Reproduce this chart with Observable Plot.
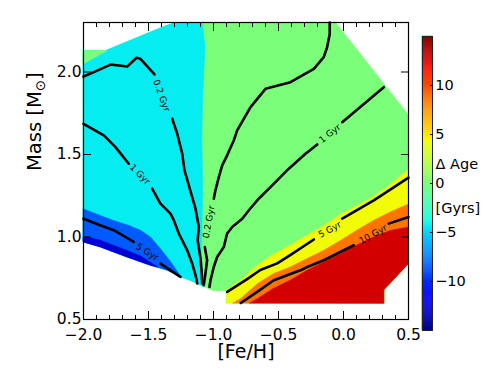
<!DOCTYPE html>
<html>
<head>
<meta charset="utf-8">
<script src="https://cdn.jsdelivr.net/npm/d3@7"></script>
<script src="https://cdn.jsdelivr.net/npm/@observablehq/plot@0.6"></script>
<style>
  html, body { margin: 0; padding: 0; background: #fff; }
  #wrap { position: relative; width: 491px; height: 368px; overflow: hidden; }
  #wrap svg { position: absolute; left: 0; top: 0; }
</style>
</head>
<body>
<div id="wrap"></div>
<script>
// ---------------- data ----------------
// axis ticks
const xMajorTicks = [-2.0, -1.5, -1.0, -0.5, 0.0, 0.5];
const xMinorTicks = [-1.9, -1.8, -1.7, -1.6, -1.4, -1.3, -1.2, -1.1, -0.9, -0.8, -0.7, -0.6, -0.4, -0.3, -0.2, -0.1, 0.1, 0.2, 0.3, 0.4];
const yMajorTicks = [0.5, 1.0, 1.5, 2.0];
const cbTicks = [-10, -5, 0, 5, 10];
const cbLabels = [{text: "\u0394 Age", v: 2.0}, {text: "[Gyrs]", v: -2.5}];

// jet colormap stops (value in Gyr, colour)
const jetValues = [-15, -11.7, -11.25, -4.8, -4.5, -3.75, 4.2, 4.5, 4.8, 11.7, 12.3, 15];
const jetColors = ["#000080", "#0000ff", "#0000ff", "#00dbff", "#00e6f7", "#14ffe2", "#eeff08", "#f7f500", "#ffec00", "#ff1300", "#e80000", "#800000"];

// filled contour regions: [Fe/H], Mass ; level = band centre of ΔAge
const envelope = [[-2.0, 2.13], [-1.83, 2.13], [-1.37, 2.28], [-1.29, 2.3], [-0.06, 2.3], [0.5, 1.74], [0.5, 0.84], [0.31, 0.68], [0.31, 0.6], [-0.9, 0.6], [-0.9, 0.675], [-1.0, 0.675], [-1.08, 0.70], [-1.15, 0.728], [-1.25, 0.758], [-1.356, 0.799], [-1.485, 0.829], [-1.665, 0.879], [-1.87, 0.94], [-2.0, 0.97]];
const cyanRegion = [[-2.0, 2.13], [-1.83, 2.13], [-1.37, 2.28], [-1.29, 2.3], [-1.087, 2.3], [-1.065, 2.15], [-1.075, 2.0], [-1.085, 1.8], [-1.09, 1.6], [-1.085, 1.4], [-1.085, 1.2], [-1.09, 1.0], [-1.095, 0.85], [-1.09, 0.75], [-1.08, 0.70], [-1.15, 0.728], [-1.25, 0.758], [-1.356, 0.799], [-1.485, 0.829], [-1.665, 0.879], [-1.87, 0.94], [-2.0, 0.97]];
const greenCorner = [[-2.0, 2.13], [-1.82, 2.13], [-2.0, 2.05]];
const blueRegion = [[-2.0, 1.17], [-1.87, 1.13], [-1.77, 1.10], [-1.65, 1.07], [-1.56, 1.04], [-1.485, 1.0], [-1.41, 0.93], [-1.33, 0.85], [-1.25, 0.758], [-1.356, 0.799], [-1.485, 0.829], [-1.665, 0.879], [-1.87, 0.94], [-2.0, 0.97]];
const darkBlueRegion = [[-2.0, 1.005], [-1.87, 0.98], [-1.72, 0.935], [-1.56, 0.885], [-1.43, 0.818], [-1.485, 0.829], [-1.665, 0.879], [-1.87, 0.94], [-2.0, 0.97]];
const yellowRegion = [[-0.9, 0.68], [-0.79, 0.74], [-0.66, 0.83], [-0.54, 0.895], [-0.41, 0.95], [-0.28, 1.01], [-0.15, 1.07], [-0.02, 1.14], [0.1, 1.19], [0.23, 1.245], [0.36, 1.32], [0.5, 1.41], [0.5, 0.84], [0.31, 0.68], [0.31, 0.6], [-0.9, 0.6]];
const orangeRegion = [[-0.85, 0.6], [-0.79, 0.627], [-0.66, 0.718], [-0.54, 0.778], [-0.41, 0.818], [-0.28, 0.869], [-0.15, 0.92], [-0.02, 0.98], [0.1, 1.04], [0.23, 1.10], [0.36, 1.151], [0.5, 1.20], [0.5, 0.84], [0.31, 0.68], [0.31, 0.6]];
const redRegion = [[-0.72, 0.6], [-0.66, 0.627], [-0.54, 0.688], [-0.41, 0.738], [-0.28, 0.798], [-0.15, 0.849], [-0.02, 0.9], [0.1, 0.95], [0.23, 1.0], [0.36, 1.04], [0.5, 1.06], [0.5, 0.84], [0.31, 0.68], [0.31, 0.6]];

const regions = [
  {level: 0, pts: envelope},
  {level: -4.29, pts: cyanRegion},
  {level: 0, pts: greenCorner},
  {level: -8.57, pts: blueRegion},
  {level: -12.86, pts: darkBlueRegion},
  {level: 4.29, pts: yellowRegion},
  {level: 8.57, pts: orangeRegion},
  {level: 12.86, pts: redRegion}
];

// contour lines (segments broken where the labels sit)
const line02LeftA = [[-2.0, 1.973], [-1.921, 1.999], [-1.792, 2.045], [-1.664, 2.033], [-1.592, 2.086], [-1.562, 2.08], [-1.454, 1.985]];
const line02LeftB = [[-1.318, 1.717], [-1.279, 1.626], [-1.241, 1.505], [-1.223, 1.404], [-1.164, 1.242], [-1.138, 1.17], [-1.113, 1.06], [-1.122, 0.98], [-1.1, 0.87], [-1.09, 0.78], [-1.087, 0.718]];
const line1LeftA = [[-2.0, 1.686], [-1.844, 1.616], [-1.754, 1.545], [-1.652, 1.444]];
const line1LeftB = [[-1.472, 1.293], [-1.408, 1.202], [-1.331, 1.142], [-1.305, 1.101], [-1.267, 1.021], [-1.202, 0.919], [-1.164, 0.839], [-1.138, 0.768], [-1.125, 0.718]];
const line5LeftA = [[-2.0, 1.111], [-1.872, 1.071], [-1.767, 1.041], [-1.613, 0.97]];
const line5LeftB = [[-1.408, 0.839], [-1.331, 0.798], [-1.254, 0.758]];
const line02RightA = [[-0.106, 2.30], [-0.106, 2.231], [-0.126, 2.15], [-0.152, 2.09], [-0.228, 2.019], [-0.408, 1.938], [-0.6, 1.898], [-0.715, 1.787], [-0.818, 1.646], [-0.844, 1.585], [-0.895, 1.495], [-0.933, 1.434], [-0.959, 1.363], [-0.985, 1.283], [-0.998, 1.232]];
const line02RightB = [[-1.067, 0.939], [-1.049, 0.859], [-1.062, 0.778], [-1.075, 0.708]];
const line1RightA = [[0.31, 1.908], [-0.01, 1.696]];
const line1RightB = [[-0.202, 1.561], [-0.292, 1.505], [-0.421, 1.414], [-0.548, 1.313], [-0.652, 1.232], [-0.728, 1.162], [-0.779, 1.111], [-0.856, 1.061], [-0.895, 1.021], [-0.921, 0.939], [-0.972, 0.879], [-0.998, 0.818], [-1.023, 0.738], [-1.031, 0.697]];
const line5RightA = [[-0.895, 0.667], [-0.75, 0.74], [-0.64, 0.80], [-0.51, 0.84], [-0.41, 0.89], [-0.228, 0.985]];
const line5RightB = [[-0.01, 1.111], [0.233, 1.222], [0.5, 1.36]];
const line10A = [[-0.79, 0.6], [-0.664, 0.667], [-0.536, 0.738], [-0.434, 0.768], [-0.331, 0.798], [-0.279, 0.818], [-0.152, 0.859], [0.079, 0.95]];
const line10B = [[0.348, 1.081], [0.5, 1.121]];
const contourSegments = [line02LeftA, line02LeftB, line1LeftA, line1LeftB, line5LeftA, line5LeftB,
  line02RightA, line02RightB, line1RightA, line1RightB, line5RightA, line5RightB, line10A, line10B];

// contour labels
const contourLabels = [
  {text: "0.2 Gyr", x: -1.40, m: 1.857, angle: 70},
  {text: "1 Gyr", x: -1.566, m: 1.38, angle: 45},
  {text: "5 Gyr", x: -1.51, m: 0.909, angle: 32},
  {text: "0.2 Gyr", x: -1.036, m: 1.091, angle: -80},
  {text: "1 Gyr", x: -0.104, m: 1.627, angle: -38},
  {text: "5 Gyr", x: -0.105, m: 1.045, angle: -29},
  {text: "10 Gyr", x: 0.228, m: 1.016, angle: -29}
];

// ---------------- rendering ----------------
const W = 491, H = 368;
const FONT = "DejaVu Sans, Liberation Sans, sans-serif";
const fmt = d => d.toFixed(1).replace("-", "\u2212");
const fmtInt = d => String(d).replace("-", "\u2212");
const blank = () => "";
const colorScale = {type: "linear", domain: jetValues, range: jetColors, interpolate: "rgb"};

const regionMarks = regions.map(r => Plot.line(r.pts, {
  x: d => d[0], y: d => d[1],
  fill: () => r.level, stroke: () => r.level, strokeWidth: 0.6,
  curve: "linear-closed"
}));
const lineMarks = contourSegments.map(seg => Plot.line(seg, {
  x: d => d[0], y: d => d[1], stroke: "black", strokeWidth: 2.6, curve: "linear"
}));

const main = Plot.plot({
  width: W, height: H,
  marginLeft: 83, marginRight: 83, marginTop: 22, marginBottom: 49,
  x: {domain: [-2, 0.5]},
  y: {domain: [0.5, 2.3]},
  color: colorScale,
  style: {fontFamily: FONT, background: "white", color: "black"},
  marks: [
    ...regionMarks,
    ...lineMarks,
    Plot.text(contourLabels, {x: "x", y: "m", text: "text", rotate: "angle", fontSize: 9, fill: "black"}),
    Plot.frame({stroke: "black", strokeWidth: 1.2}),
    Plot.axisX(xMinorTicks, {anchor: "bottom", tickSize: -4, tickFormat: blank, label: null}),
    Plot.axisX(xMinorTicks, {anchor: "top", tickSize: -4, tickFormat: blank, label: null}),
    Plot.axisX(xMajorTicks, {anchor: "bottom", tickSize: -8, tickPadding: 17, tickFormat: fmt, fontSize: 15.5, label: null}),
    Plot.axisX(xMajorTicks, {anchor: "top", tickSize: -8, tickFormat: blank, label: null}),
    Plot.axisY(yMajorTicks, {anchor: "left", tickSize: -8, tickPadding: 10, tickFormat: fmt, fontSize: 15.5, label: null}),
    Plot.axisY(yMajorTicks, {anchor: "right", tickSize: -8, tickFormat: blank, label: null}),
    Plot.text(["[Fe/H]"], {frameAnchor: "bottom", dy: 38, text: d => d, fontSize: 19}),
    Plot.text(["Mass [M\u2299]"], {frameAnchor: "left", dx: -49, rotate: -90, text: d => d, fontSize: 19.5})
  ]
});

// subscript for the solar symbol
d3.select(main).selectAll("text")
  .filter(function () { return this.textContent === "Mass [M\u2299]"; })
  .each(function () {
    const t = d3.select(this);
    t.text(null);
    t.append("tspan").text("Mass [M");
    t.append("tspan").attr("font-size", "13.5px").attr("dy", 4).text("\u2299");
    t.append("tspan").attr("dy", -4).text("]");
  });

// colour bar
const cbSteps = d3.range(-15, 15, 0.1);
const colorbar = Plot.plot({
  width: W, height: H,
  marginLeft: 422, marginRight: 59, marginTop: 36, marginBottom: 38,
  x: {domain: [0, 1], axis: null},
  y: {domain: [-15, 15]},
  color: colorScale,
  style: {fontFamily: FONT, background: "transparent", color: "black"},
  marks: [
    Plot.rect(cbSteps, {x1: 0, x2: 1, y1: d => d, y2: d => d + 0.1, fill: d => d + 0.05, stroke: d => d + 0.05, strokeWidth: 0.4}),
    Plot.frame({stroke: "#222", strokeWidth: 1}),
    Plot.axisY(cbTicks, {anchor: "right", tickSize: -3, tickPadding: 5.7, tickFormat: fmtInt, fontSize: 14.5, label: null}),
    Plot.text(cbLabels, {y: "v", text: "text", frameAnchor: "right", dx: 3, textAnchor: "start", fontSize: 14.5})
  ]
});

const wrap = document.getElementById("wrap");
wrap.appendChild(main);
wrap.appendChild(colorbar);
</script>
</body>
</html>
